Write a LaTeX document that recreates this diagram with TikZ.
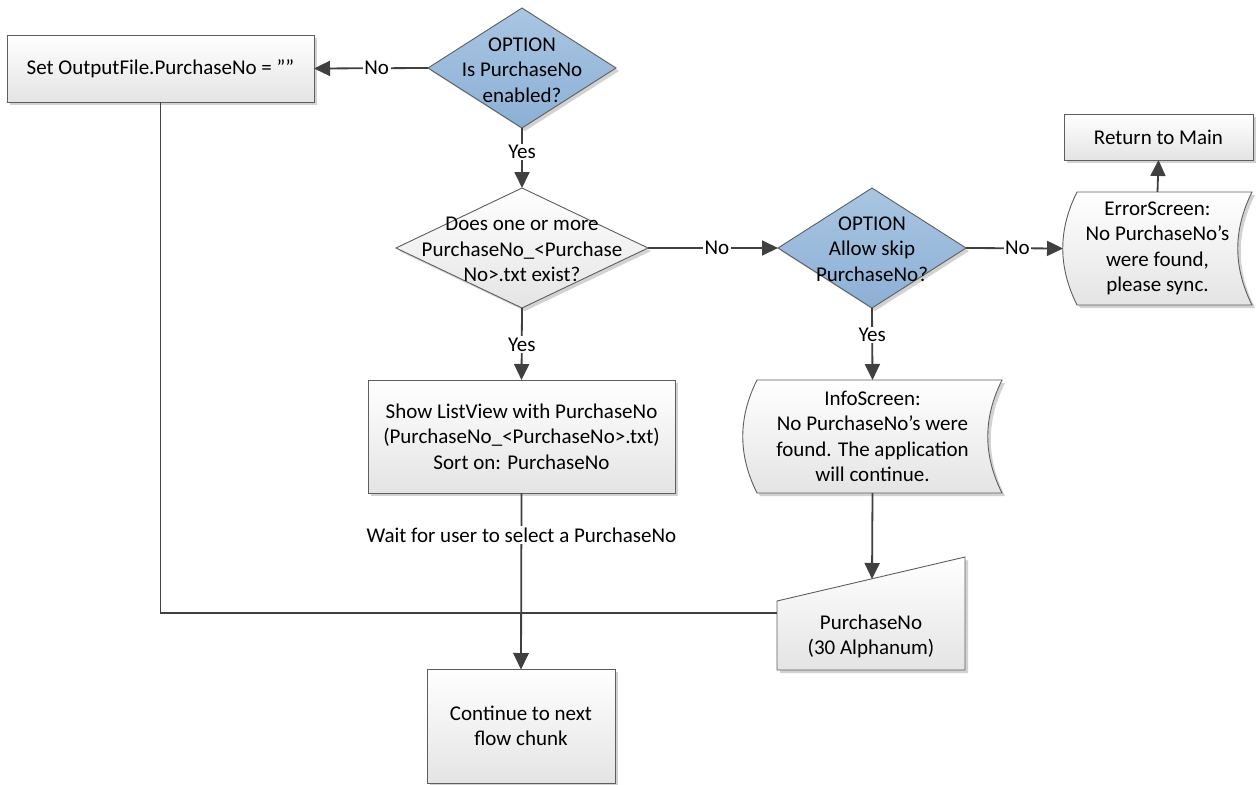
\documentclass[tikz,border=0pt]{standalone}
\usepackage{fontspec}
\setmainfont{Carlito}
\usetikzlibrary{shapes.geometric,arrows.meta,shadows}
\definecolor{edge}{HTML}{5E5E5E}
\definecolor{conn}{HTML}{404040}
\definecolor{blueT}{HTML}{A9C6E2}
\definecolor{blueB}{HTML}{8CB0D6}
\definecolor{greyB}{HTML}{E4E4E4}
\definecolor{shad}{HTML}{D2D2D2}
\begin{document}
\begin{tikzpicture}[x=1pt,y=-1pt,
  every node/.style={font=\fontsize{21}{25.5}\selectfont},
  procbox/.style={rectangle, draw=edge, line width=0.9pt, top color=white, bottom color=greyB,
    general shadow={fill=shad, shadow xshift=3pt, shadow yshift=-3pt},
    inner sep=0pt, outer sep=0pt, align=center},
  decbox/.style={diamond, draw=edge, line width=0.9pt, inner sep=0pt, outer sep=0pt,
    general shadow={fill=shad, shadow xshift=3pt, shadow yshift=-3pt}},
  bluedec/.style={decbox, top color=blueT, bottom color=blueB},
  whitedec/.style={decbox, top color=white, bottom color=greyB},
  txt/.style={align=center, inner sep=0pt},
  area/.style={rectangle, inner sep=0pt, outer sep=0pt, align=center},
  outl/.style={draw=edge, line width=0.9pt, top color=white, bottom color=greyB},
  flow/.style={draw=conn, line width=1.8pt, -{Triangle[length=16pt,width=15pt]}},
  lab/.style={fill=white, inner sep=1.5pt}]

\fill[white] (0,0) rectangle (1260,784);
\useasboundingbox (0,0) rectangle (1260,784);

% process boxes
\node[procbox, minimum width=307pt, minimum height=67pt] (setout) at (160.5,68.5) {Set OutputFile.PurchaseNo = ””};
\node[procbox, minimum width=307pt, minimum height=113pt] (list) at (521.5,436.5) {Show ListView with PurchaseNo\\(PurchaseNo\_<PurchaseNo>.txt)\\Sort on: PurchaseNo};
\node[procbox, minimum width=189pt, minimum height=46pt] (ret) at (1158.5,137) {Return to Main};
\node[procbox, minimum width=188pt, minimum height=114pt] (cont) at (521,726) {Continue to next\\flow chunk};

% decisions
\node[bluedec, minimum width=188pt, minimum height=120pt] (opt1) at (522,68) {};
\node[txt] (opt1t) at (522,70) {OPTION\\Is PurchaseNo\\enabled?};
\node[whitedec, minimum width=252pt, minimum height=120pt] (exist) at (522,248) {};
\node[txt] (existt) at (522,249.5) {Does one or more\\PurchaseNo\_<Purchase\\No>.txt exist?};
\node[bluedec, minimum width=188pt, minimum height=120pt] (opt2) at (872,248) {};
\node[txt] (opt2t) at (872,249) {OPTION\\Allow skip\\PurchaseNo?};

% stored data: ErrorScreen
\fill[shad, shift={(3,3)}] (1077,192) -- (1252,192) .. controls (1233,230) and (1233,267) .. (1252,305) -- (1077,305) .. controls (1058,267) and (1058,230) .. (1077,192) -- cycle;
\path[outl] (1077,192) -- (1252,192) .. controls (1233,230) and (1233,267) .. (1252,305) -- (1077,305) .. controls (1058,267) and (1058,230) .. (1077,192) -- cycle;
\node[area, minimum width=189pt, minimum height=113pt] (err) at (1157.5,248.5) {ErrorScreen:\\No PurchaseNo’s\\were found,\\please sync.};

% stored data: InfoScreen
\fill[shad, shift={(3,3)}] (757,380) -- (1002,380) .. controls (983,418) and (983,455) .. (1002,493) -- (757,493) .. controls (738,455) and (738,418) .. (757,380) -- cycle;
\path[outl] (757,380) -- (1002,380) .. controls (983,418) and (983,455) .. (1002,493) -- (757,493) .. controls (738,455) and (738,418) .. (757,380) -- cycle;
\node[area, minimum width=259pt, minimum height=113pt] (info) at (872.5,436.5) {InfoScreen:\\No PurchaseNo’s were\\found. The application\\will continue.};

% manual input: PurchaseNo
\fill[shad, shift={(3,3)}] (777,601) -- (965,557) -- (965,670) -- (777,670) -- cycle;
\path[outl] (777,601) -- (965,557) -- (965,670) -- (777,670) -- cycle;
\node[txt] (pn) at (871,636.5) {PurchaseNo\\(30 Alphanum)};
\coordinate (pnl) at (777,613);
\coordinate (pnt) at (872,579);
\coordinate (join) at (521,613);

% connectors
\draw[flow] (opt1.west) -- node[lab, pos=0.45] (l1) {No} (setout.east);
\draw[flow] (opt1.south) -- node[lab, pos=0.4] (l2) {Yes} (exist.north);
\draw[flow] (exist.south) -- node[lab, pos=0.51] (l3) {Yes} (list.north);
\draw[flow] (exist.east) -- node[lab, pos=0.53] (l4) {No} (opt2.west);
\draw[flow] (opt2.east) -- node[lab, pos=0.53] (l5) {No} (err.west);
\draw[flow] (err.north) -- (ret.south);
\draw[flow] (opt2.south) -- node[lab, pos=0.375] (l6) {Yes} (info.north);
\draw[flow] (info.south) -- (pnt);
\draw[flow] (setout.south) |- (join) -- (cont.north);
\draw[flow] (pnl) -- (join) -- (cont.north);
\draw[flow] (list.south) -- node[lab, pos=0.24] (l7) {Wait for user to select a PurchaseNo} (cont.north);
\end{tikzpicture}
\end{document}
